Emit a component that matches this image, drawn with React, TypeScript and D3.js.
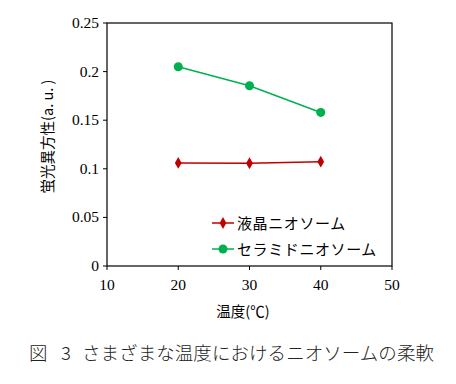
import React from 'react';
import * as d3 from 'd3';

const temps = [20, 30, 40];
const lcValues = [0.106, 0.1057, 0.1073];
const ceramideValues = [0.205, 0.1855, 0.158];
const xTicks = [10, 20, 30, 40, 50];
const yTicks = [0, 0.05, 0.1, 0.15, 0.2, 0.25];
const seriesNames = ['液晶ニオソーム', 'セラミドニオソーム'];

const W = 456;
const H = 384;
const left = 107;
const right = 392;
const top = 23;
const bottom = 266;

const RED = '#C00000';
const GREEN = '#00B050';
const JP = "'Noto Sans CJK JP', 'Noto Sans', sans-serif";
const SERIF = "'Liberation Serif', serif";

const App = () => {
  const x = d3.scaleLinear().domain([10, 50]).range([left, right]);
  const y = d3.scaleLinear().domain([0, 0.25]).range([bottom, top]);
  const line = d3.line<[number, number]>().x(d => x(d[0])).y(d => y(d[1]));
  const diamond = d3.symbol().type(d3.symbolDiamond).size(40)();
  const lcPts = temps.map((t, i) => [t, lcValues[i]] as [number, number]);
  const crPts = temps.map((t, i) => [t, ceramideValues[i]] as [number, number]);

  return (
    <svg width={W} height={H} style={{ position: 'absolute', left: 0, top: 0, background: '#fff' }}>
      {/* frame */}
      <rect x={left} y={top} width={right - left} height={bottom - top} fill="none" stroke="#000" strokeWidth={1.2} />
      {xTicks.map(t => (
        <g key={'x' + t}>
          <line x1={x(t)} x2={x(t)} y1={bottom} y2={bottom + 4} stroke="#000" />
          <text x={x(t)} y={bottom + 24} textAnchor="middle" style={{ fontFamily: SERIF, fontSize: 15.5 }}>{t}</text>
        </g>
      ))}
      {yTicks.map(t => (
        <g key={'y' + t}>
          <line x1={left - 4} x2={left} y1={y(t)} y2={y(t)} stroke="#000" />
          <text x={left - 8} y={y(t) + 5} textAnchor="end" style={{ fontFamily: SERIF, fontSize: 15.5 }}>{t}</text>
        </g>
      ))}
      <path d={line(lcPts) ?? ''} fill="none" stroke={RED} strokeWidth={1.5} />
      <path d={line(crPts) ?? ''} fill="none" stroke={GREEN} strokeWidth={1.5} />
      {lcPts.map((p, i) => (
        <path key={'r' + i} d={diamond ?? ''} transform={`translate(${x(p[0])},${y(p[1])})`} fill={RED} />
      ))}
      {crPts.map((p, i) => (
        <circle key={'g' + i} cx={x(p[0])} cy={y(p[1])} r={4.5} fill={GREEN} />
      ))}
      {/* legend */}
      {seriesNames.map((name, i) => {
        const ly = 223 + i * 26;
        const c = i === 0 ? RED : GREEN;
        return (
          <g key={name}>
            <line x1={212} x2={234} y1={ly} y2={ly} stroke={c} strokeWidth={1.5} />
            {i === 0
              ? <path d={diamond ?? ''} transform={`translate(223,${ly})`} fill={c} />
              : <circle cx={223} cy={ly} r={4.5} fill={c} />}
            <text x={237} y={ly + 5.5} style={{ fontFamily: JP, fontSize: 15, letterSpacing: 0.6 }}>{name}</text>
          </g>
        );
      })}
      <text x={243} y={317} textAnchor="middle" style={{ fontFamily: JP, fontSize: 14.5 }}>温度(℃)</text>
      <text transform={`translate(53,${(top + bottom) / 2 - 8}) rotate(-90)`} textAnchor="middle" style={{ fontFamily: JP, fontSize: 14.5 }}>蛍光異方性(a. u. )</text>
      <g style={{ fontFamily: JP, fontSize: 18.5, fontWeight: 300 }} fill="#222">
        <text x={29} y={360}>図</text>
        <text x={61} y={360}>3</text>
        <text x={82} y={360} textLength={352} lengthAdjust="spacing">さまざまな温度におけるニオソームの柔軟</text>
      </g>
    </svg>
  );
};

export default App;
